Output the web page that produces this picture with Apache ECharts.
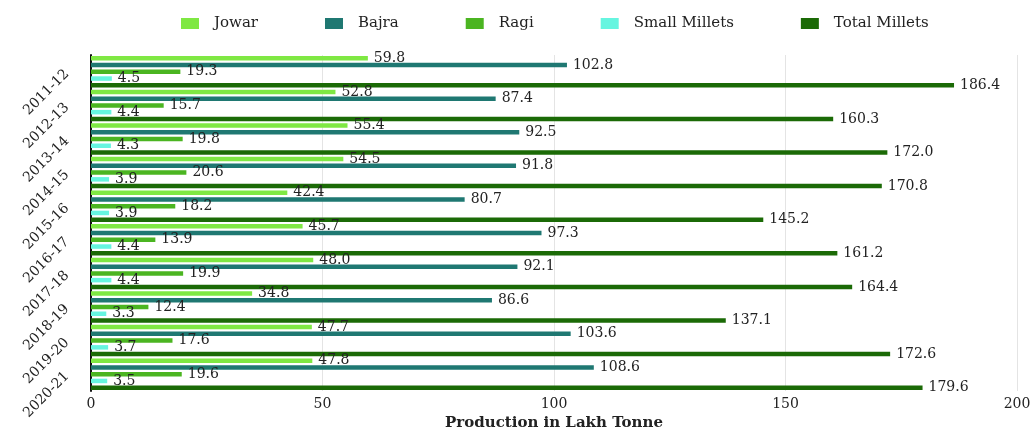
<!DOCTYPE html>
<html>
<head>
<meta charset="utf-8">
<script src="https://cdn.jsdelivr.net/npm/echarts@6/dist/echarts.min.js"></script>
<style>
  html, body { margin: 0; padding: 0; background: #fff; }
  #chart { width: 1035px; height: 431px; }
</style>
</head>
<body>
<div id="chart"></div>
<script>
// years, top to bottom
var years = ['2011-12', '2012-13', '2013-14', '2014-15', '2015-16', '2016-17', '2017-18', '2018-19', '2019-20', '2020-21'];
var jowar = [59.8, 52.8, 55.4, 54.5, 42.4, 45.7, 48.0, 34.8, 47.7, 47.8];
var bajra = [102.8, 87.4, 92.5, 91.8, 80.7, 97.3, 92.1, 86.6, 103.6, 108.6];
var ragi = [19.3, 15.7, 19.8, 20.6, 18.2, 13.9, 19.9, 12.4, 17.6, 19.6];
var smallMillets = [4.5, 4.4, 4.3, 3.9, 3.9, 4.4, 4.4, 3.3, 3.7, 3.5];
var totalMillets = [186.4, 160.3, 172.0, 170.8, 145.2, 161.2, 164.4, 137.1, 172.6, 179.6];

var seriesNames = ['Jowar', 'Bajra', 'Ragi', 'Small Millets', 'Total Millets'];
var seriesData = [jowar, bajra, ragi, smallMillets, totalMillets];
var colors = ['#7FE843', '#1F7872', '#4BB521', '#66F5E0', '#1B6A06'];

var serif = '"DejaVu Serif", "Liberation Serif", serif';

var chart = echarts.init(document.getElementById('chart'));

var series = seriesNames.map(function (name, i) {
  return {
    name: name,
    type: 'bar',
    data: seriesData[i],
    barWidth: 4.5,
    barGap: '50%',
    barCategoryGap: '0%',
    itemStyle: { color: colors[i] },
    label: {
      show: true,
      position: 'right',
      distance: 6,
      fontFamily: serif,
      fontSize: 14,
      color: '#222',
      formatter: function (p) { return p.value.toFixed(1); }
    }
  };
});

chart.setOption({
  animation: false,
  textStyle: { fontFamily: serif },
  legend: {
    top: 11,
    left: 176,
    itemWidth: 18,
    itemHeight: 11,
    itemGap: 67,
    icon: 'rect',
    textStyle: { fontFamily: serif, fontSize: 15, color: '#222', padding: [0, 0, 0, 10] },
    data: seriesNames
  },
  grid: { left: 91, right: 18, top: 55, bottom: 40, outerBoundsMode: 'none' },
  xAxis: {
    type: 'value',
    min: 0,
    max: 200,
    interval: 50,
    name: 'Production in Lakh Tonne',
    nameLocation: 'middle',
    nameGap: 25,
    nameTextStyle: { fontFamily: serif, fontSize: 15, fontWeight: 'bold', color: '#222' },
    axisLine: { show: false },
    axisTick: { show: false },
    axisLabel: { fontFamily: serif, fontSize: 14, color: '#222', margin: 6 },
    splitLine: { lineStyle: { color: '#e4e4e4' } }
  },
  yAxis: {
    type: 'category',
    data: years,
    inverse: true,
    axisLine: { show: true, lineStyle: { color: '#111', width: 2 } },
    axisTick: { show: false },
    axisLabel: { rotate: 45, fontFamily: serif, fontSize: 14, color: '#222', margin: 24 }
  },
  series: series
});
</script>
</body>
</html>
